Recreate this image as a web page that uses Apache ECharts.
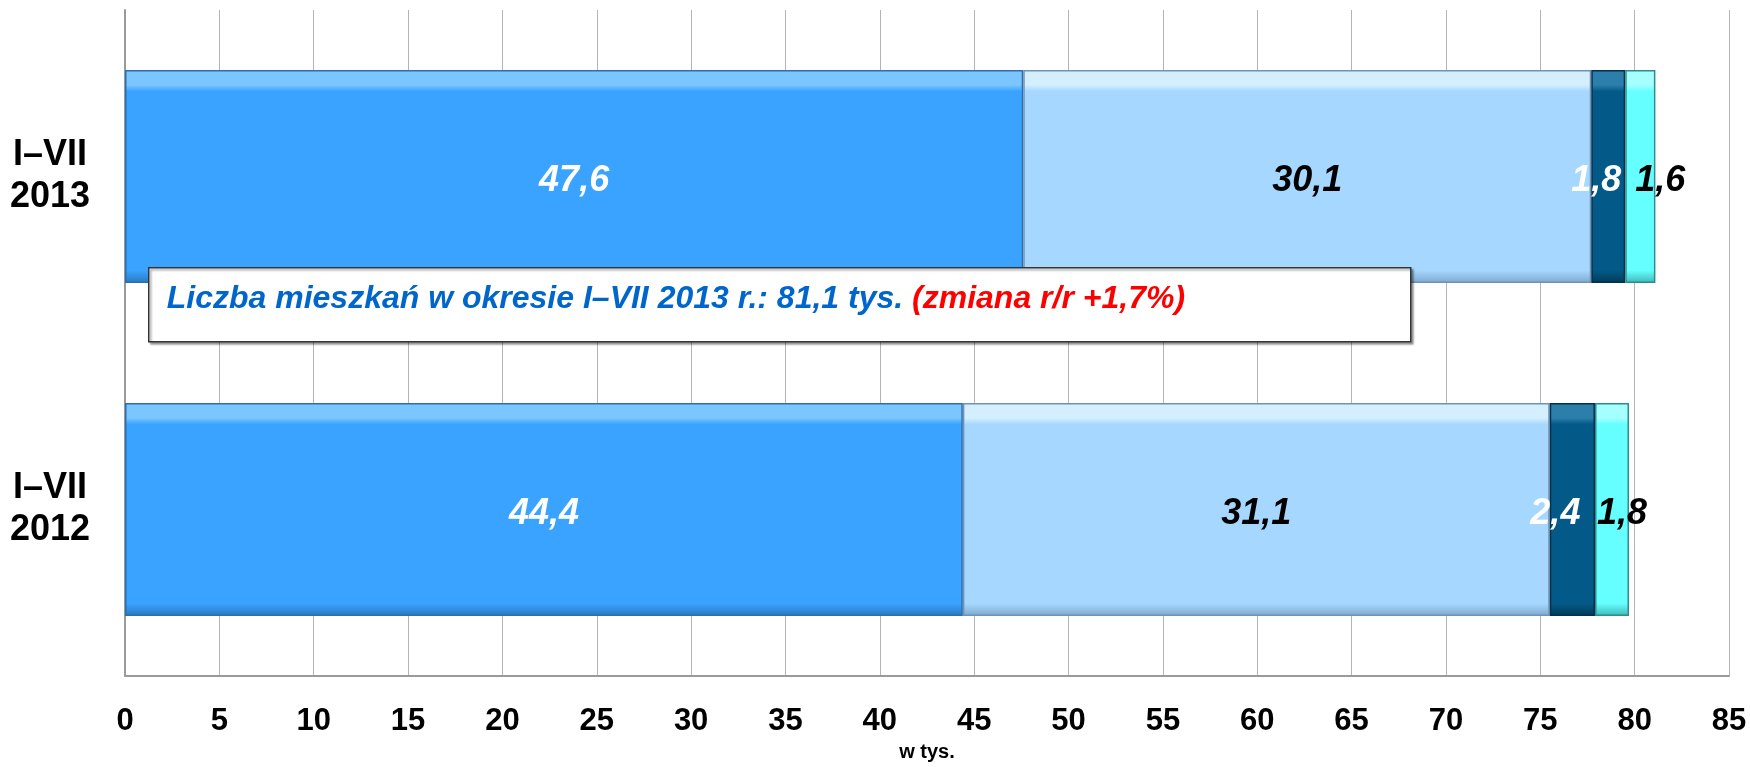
<!DOCTYPE html>
<html>
<head>
<meta charset="utf-8">
<script src="https://cdn.jsdelivr.net/npm/echarts@6/dist/echarts.min.js"></script>
<style>
    html, body { margin: 0; padding: 0; background: #fff; }
    #chart { width: 1750px; height: 767px; }
</style>
</head>
<body>
<div id="chart"></div>
<script>
    // dane (w tys.)
    var categories = ['I–VII\n2012', 'I–VII\n2013'];
    var part1 = [44.4, 47.6];
    var part2 = [31.1, 30.1];
    var part3 = [2.4, 1.8];
    var part4 = [1.8, 1.6];
    var xTicks = [0, 5, 10, 15, 20, 25, 30, 35, 40, 45, 50, 55, 60, 65, 70, 75, 80, 85];

    var FONT = '"Liberation Sans", Arial, sans-serif';

    function bevel(top, mid, bottom) {
        return new echarts.graphic.LinearGradient(0, 0, 0, 1, [
            { offset: 0, color: top },
            { offset: 0.07, color: top },
            { offset: 0.1, color: mid },
            { offset: 0.94, color: mid },
            { offset: 1, color: bottom }
        ]);
    }

    function makeSeries(name, values, fill, border, textColor, offsets) {
        return {
            name: name,
            type: 'bar',
            stack: 'all',
            barWidth: '64%',
            data: values.map(function (v, i) {
                return {
                    value: v,
                    label: { offset: [offsets[i], 5] }
                };
            }),
            itemStyle: { color: fill, borderColor: border, borderWidth: 1.5 },
            label: {
                show: true,
                position: 'inside',
                formatter: function (p) { return String(p.value).replace('.', ','); },
                color: textColor,
                fontFamily: FONT,
                fontSize: 36,
                fontWeight: 'bold',
                fontStyle: 'italic'
            }
        };
    }

    var chart = echarts.init(document.getElementById('chart'));
    var option = {
        animation: false,
        grid: { left: 125, right: 21, top: 10, bottom: 83 },
        xAxis: {
            type: 'value',
            min: xTicks[0],
            max: xTicks[xTicks.length - 1],
            interval: 5,
            name: 'w tys.',
            nameLocation: 'middle',
            nameGap: 66,
            nameTextStyle: { fontFamily: FONT, fontSize: 20, fontWeight: 'bold', color: '#000' },
            axisLine: { show: true, lineStyle: { color: '#9a9a9a', width: 2 } },
            axisTick: { show: false },
            splitLine: { show: true, lineStyle: { color: '#b4b4b4', width: 1 } },
            axisLabel: {
                margin: 30,
                fontFamily: FONT, fontSize: 31, fontWeight: 'bold', color: '#000'
            }
        },
        yAxis: {
            type: 'category',
            data: categories,
            axisLine: { show: true, lineStyle: { color: '#9a9a9a', width: 2 } },
            axisTick: { show: false },
            axisLabel: {
                margin: 75,
                align: 'center',
                lineHeight: 42,
                fontFamily: FONT, fontSize: 36, fontWeight: 'bold', color: '#000'
            }
        },
        series: [
            makeSeries('s1', part1, bevel('#7cc6ff', '#3aa3ff', '#2a78c0'), '#2b6fae', '#fff', [0, 0]),
            makeSeries('s2', part2, bevel('#d4efff', '#a6d8ff', '#7fa8cc'), '#6f93b5', '#000', [0, 0]),
            makeSeries('s3', part3, bevel('#2c7fab', '#035a88', '#023a58'), '#01314c', '#fff', [-17, -12]),
            makeSeries('s4', part4, bevel('#a6ffff', '#66ffff', '#3fb6b6'), '#2f8c8c', '#000', [10, 20])
        ],
        graphic: [{
            type: 'group',
            left: 148,
            top: 267,
            z: 100,
            children: [{
                type: 'rect',
                z: 100,
                shape: { x: 0, y: 0, width: 1262, height: 74 },
                style: { fill: '#fff', stroke: '#333', lineWidth: 1.5, shadowColor: 'rgba(0,0,0,0.35)', shadowOffsetX: 2, shadowOffsetY: 2, shadowBlur: 2 }
            }, {
                type: 'text',
                z: 101,
                x: 18,
                y: 31,
                style: {
                    text: '{b|Liczba mieszkań w okresie I–VII 2013 r.: 81,1 tys.\u00a0}{r|(zmiana r/r +1,7%)}',
                    verticalAlign: 'middle',
                    rich: {
                        b: { fontFamily: FONT, fontSize: 32, fontWeight: 'bold', fontStyle: 'italic', fill: '#0066cc' },
                        r: { fontFamily: FONT, fontSize: 32, fontWeight: 'bold', fontStyle: 'italic', fill: '#ff0000' }
                    }
                }
            }]
        }]
    };
    chart.setOption(option);
</script>
</body>
</html>
